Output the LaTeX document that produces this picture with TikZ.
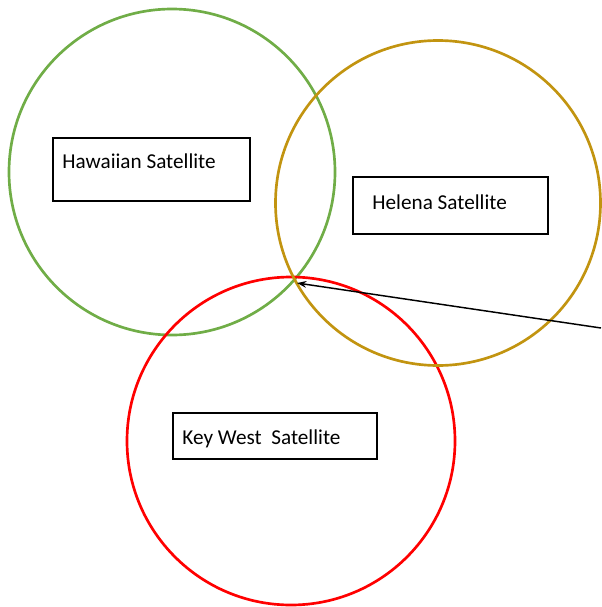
\documentclass[tikz,border=0pt]{standalone}
\usepackage{fontspec}
\setmainfont{Carlito}
\usetikzlibrary{arrows.meta,calc}
\begin{document}
\begin{tikzpicture}[x=0.75pt,y=-0.75pt,
  ring/.style={line width=2pt},
  satbox/.style={draw=black,line width=1.2pt,fill=white,rectangle,inner sep=0pt},
  sattext/.style={anchor=base west,inner sep=0pt,font=\fontsize{15.9pt}{18pt}\selectfont},
  pointer/.style={draw=black,line width=1.1pt,-{Stealth[length=7pt,width=5pt]}}]
\definecolor{ringgreen}{RGB}{112,173,71}
\definecolor{ringgold}{RGB}{194,148,16}
\definecolor{ringred}{RGB}{255,0,0}
\useasboundingbox (0,0) rectangle (601,607);
\draw[ring,ringgreen] (172,172) circle[radius=163*0.75pt];
\draw[ring,ringred] (291,441) circle[radius=164*0.75pt];
\draw[ring,ringgold] (438,203) circle[radius=162.5*0.75pt];
\node[satbox,minimum width=197*0.75pt,minimum height=63*0.75pt] (haw) at (151.5,169.5) {};
\node[satbox,minimum width=195*0.75pt,minimum height=57*0.75pt] (hel) at (450.5,205.5) {};
\node[satbox,minimum width=204*0.75pt,minimum height=46*0.75pt] (kw) at (275,436) {};
\node[sattext] (hawt) at ($(haw.west)+(10,-1.2)$) {Hawaiian Satellite};
\node[sattext] (helt) at ($(hel.west)+(20,3.5)$) {Helena Satellite};
\node[sattext] (kwt) at ($(kw.west)+(10,8)$) {Key West\ \ Satellite};
\coordinate (src) at (601,328);
\coordinate (meet) at (297,283);
\draw[pointer] (src) -- (meet);
\end{tikzpicture}
\end{document}
